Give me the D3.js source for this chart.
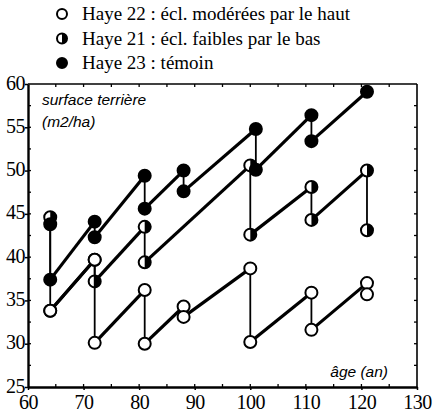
<!DOCTYPE html>
<html>
<head>
<meta charset="utf-8">
<script src="https://cdn.jsdelivr.net/npm/d3@7"></script>
<style>
	body { margin: 0; background: #fff; }
	svg { display: block; }
	.legend text { font-family: "Liberation Serif", "Times New Roman", serif; font-size: 19px; }
	.axis_title { font-family: "Liberation Sans", Arial, sans-serif; font-style: italic; font-size: 15.5px; }
</style>
</head>
<body>
<div id="chart"></div>
<script>
// basal area (m2/ha) by stand age; same age twice = before / after thinning
var legend_labels = [
	"Haye 22 : écl. modérées par le haut",
	"Haye 21 : écl. faibles par le bas",
	"Haye 23 : témoin"
];
var marker_kinds = ["open", "half", "full"];

var haye23 = [[64, 43.8], [64, 37.4], [72, 44.1], [72, 42.3], [81, 49.4], [81, 45.6], [88, 50.0], [88, 47.6],
	[101, 54.8], [101, 50.1], [111, 56.4], [111, 53.4], [121, 59.1]];
var haye21 = [[64, 44.6], [64, 33.8], [72, 39.7], [72, 37.2], [81, 43.5], [81, 39.4], [100, 50.6], [100, 42.6],
	[111, 48.1], [111, 44.3], [121, 50.0], [121, 43.1]];
var haye22 = [[64, 33.8], [72, 39.7], [72, 30.1], [81, 36.2], [81, 30.0], [88, 34.3], [88, 33.1], [100, 38.7],
	[100, 30.2], [111, 35.9], [111, 31.6], [121, 37.0], [121, 35.7]];

var x_ticks = [60, 70, 80, 90, 100, 110, 120, 130];
var y_ticks = [25, 30, 35, 40, 45, 50, 55, 60];

var width = 434, height = 418;
var svg = d3.select("#chart").append("svg").attr("width", width).attr("height", height);

var x = d3.scaleLinear().domain([60, 130]).range([28, 417]);
var y = d3.scaleLinear().domain([25, 60]).range([387, 84]);

function draw_marker(g, kind, r) {
	g.append("circle").attr("r", r).attr("fill", kind == "full" ? "#000" : "#fff");
	if (kind == "half") {
		g.append("path").attr("d", "M0," + (-r) + "A" + r + "," + r + " 0 0 1 0," + r + "Z").attr("fill", "#000");
	}
	g.append("circle").attr("r", r).attr("fill", "none").attr("stroke", "#000").attr("stroke-width", 2);
}

// minor ticks every 5 years / 2.5 m2, pointing into the plot
var minor = svg.append("g").attr("stroke", "#000").attr("stroke-width", 1.3);
d3.range(65, 130, 5).forEach(function(a) {
	minor.append("line").attr("x1", x(a)).attr("x2", x(a)).attr("y1", y(25)).attr("y2", y(25) - 3);
	minor.append("line").attr("x1", x(a)).attr("x2", x(a)).attr("y1", y(60)).attr("y2", y(60) + 3);
});
d3.range(27.5, 60, 2.5).forEach(function(v) {
	minor.append("line").attr("x1", x(60)).attr("x2", x(60) + 3).attr("y1", y(v)).attr("y2", y(v));
	minor.append("line").attr("x1", x(130)).attr("x2", x(130) - 3).attr("y1", y(v)).attr("y2", y(v));
});

// frame
svg.append("line").attr("x1", x(60)).attr("x2", x(130)).attr("y1", y(60)).attr("y2", y(60))
	.attr("stroke", "#000").attr("stroke-width", 1.6);
svg.append("line").attr("x1", x(130)).attr("x2", x(130)).attr("y1", y(60)).attr("y2", y(25))
	.attr("stroke", "#000").attr("stroke-width", 1.6);

var x_axis = svg.append("g").attr("transform", "translate(0," + y(25) + ")")
	.call(d3.axisBottom(x).tickValues(x_ticks).tickSize(3).tickPadding(5).tickSizeOuter(0));
var y_axis = svg.append("g").attr("transform", "translate(" + x(60) + ",0)")
	.call(d3.axisLeft(y).tickValues(y_ticks).tickSize(3).tickPadding(0).tickSizeOuter(0));
[x_axis, y_axis].forEach(function(ax) {
	ax.attr("font-family", "'Liberation Serif', 'Times New Roman', serif").attr("font-size", 20);
	ax.select(".domain").attr("stroke-width", 2.4);
	ax.selectAll(".tick line").attr("stroke-width", 1.5);
	ax.selectAll(".tick text").attr("letter-spacing", "-0.5px");
});
y_axis.selectAll(".tick text").attr("dy", "0.25em");

svg.append("text").attr("class", "axis_title").attr("x", 42).attr("y", 105).text("surface terrière");
svg.append("text").attr("class", "axis_title").attr("x", 42).attr("y", 127).text("(m2/ha)");
svg.append("text").attr("class", "axis_title").attr("x", 388).attr("y", 377).attr("text-anchor", "end").text("âge (an)");

// growth segments are thick, thinning drops (same age) are thin
function render_series(data, kind) {
	var g = svg.append("g");
	for (var i = 1; i < data.length; i++) {
		var a = data[i - 1], b = data[i];
		g.append("line")
			.attr("x1", x(a[0])).attr("y1", y(a[1]))
			.attr("x2", x(b[0])).attr("y2", y(b[1]))
			.attr("stroke", "#000")
			.attr("stroke-width", a[0] == b[0] ? 1.8 : 3.2);
	}
	data.forEach(function(d) {
		draw_marker(g.append("g").attr("transform", "translate(" + x(d[0]) + "," + y(d[1]) + ")"), kind, 6);
	});
}

render_series(haye21, "half");
render_series(haye23, "full");
render_series(haye22, "open");

var legend = svg.append("g").attr("class", "legend");
legend_labels.forEach(function(label, i) {
	var cy = 14 + i * 24.5;
	draw_marker(legend.append("g").attr("transform", "translate(62," + cy + ")"), marker_kinds[i], 5);
	legend.append("text").attr("x", 82).attr("y", cy + 6).text(label);
});
</script>
</body>
</html>
